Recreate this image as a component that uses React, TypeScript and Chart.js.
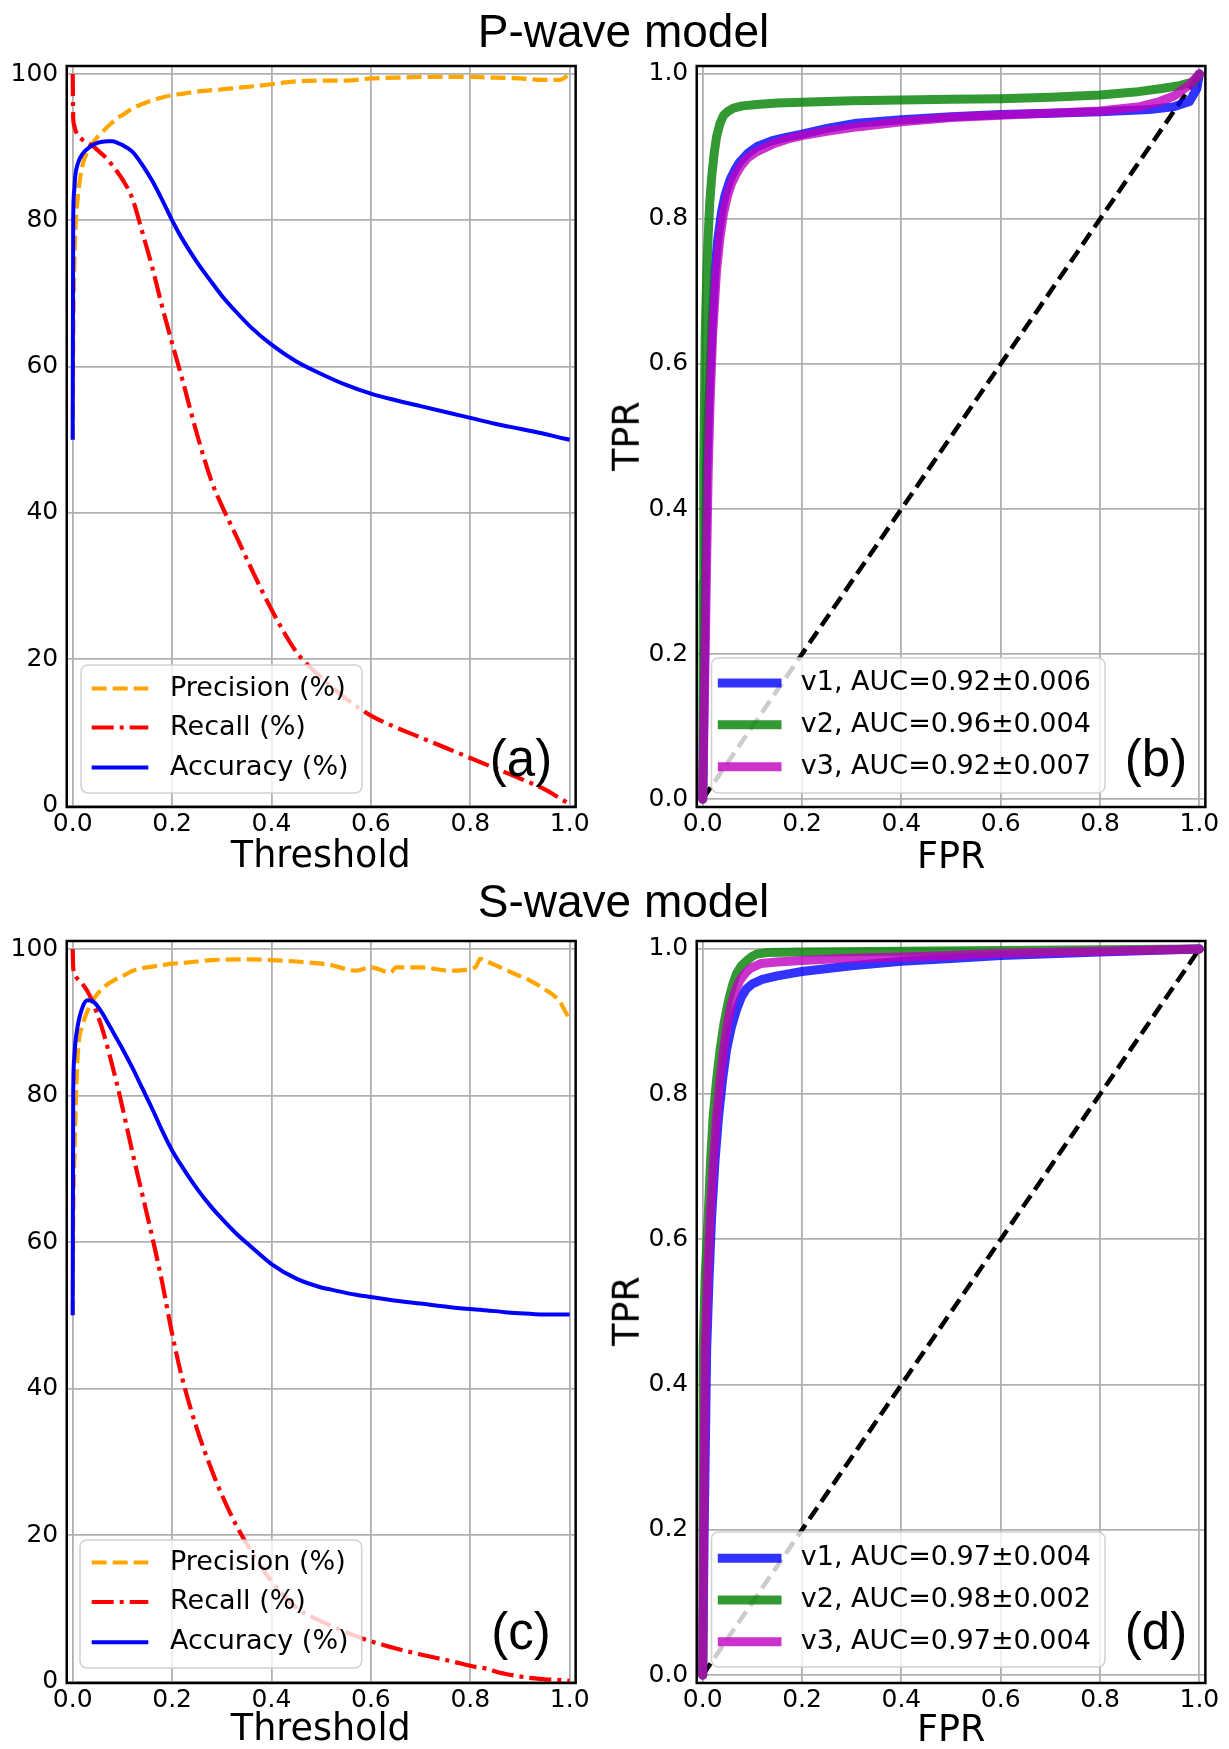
import React, { useEffect, useRef } from "react";
import { Chart, registerables } from "chart.js";

Chart.register(...registerables);

// ---------------- tick values ----------------
const thresholdTicks = [0, 0.2, 0.4, 0.6, 0.8, 1.0];
const percentTicks = [0, 20, 40, 60, 80, 100];
const rateTicks = [0, 0.2, 0.4, 0.6, 0.8, 1.0];

// ---------------- labels ----------------
const metricLabels = ["Precision (%)", "Recall (%)", "Accuracy (%)"];
const pRocLabels = ["v1, AUC=0.92±0.006", "v2, AUC=0.96±0.004", "v3, AUC=0.92±0.007"];
const sRocLabels = ["v1, AUC=0.97±0.004", "v2, AUC=0.98±0.002", "v3, AUC=0.97±0.004"];

// ---------------- (a) P-wave threshold curves ----------------
const pThreshold = [0, 0.001, 0.003, 0.005, 0.01, 0.02, 0.03, 0.04, 0.05, 0.06, 0.07, 0.08, 0.09, 0.1, 0.12, 0.14, 0.16, 0.18, 0.2, 0.22, 0.25, 0.28, 0.3, 0.33, 0.36, 0.4, 0.45, 0.5, 0.55, 0.6, 0.65, 0.7, 0.75, 0.8, 0.85, 0.9, 0.95, 0.98, 1.0];
const pPrecision = [50, 62, 73, 78, 83, 87.6, 89.4, 90.5, 91.4, 92.1, 92.8, 93.4, 94.0, 94.4, 95.3, 95.9, 96.4, 96.8, 97.1, 97.3, 97.6, 97.8, 97.9, 98.1, 98.3, 98.6, 99.0, 99.1, 99.1, 99.4, 99.5, 99.6, 99.6, 99.6, 99.5, 99.4, 99.2, 99.2, 100];
const pRecall = [100, 94, 93, 92.4, 91.7, 91.0, 90.6, 90.2, 89.6, 89.0, 88.3, 87.5, 86.6, 85.6, 83.0, 78.4, 73.6, 68.2, 63.2, 58.4, 50.8, 44.2, 41.0, 36.7, 32.3, 26.8, 21.0, 17.5, 14.6, 12.3, 10.7, 9.3, 7.9, 6.5, 5.1, 3.7, 2.2, 1.0, 0.2];
const pAccuracy = [50, 80, 84, 86, 87.7, 89.1, 89.8, 90.3, 90.6, 90.75, 90.8, 90.8, 90.6, 90.3, 89.4, 87.6, 85.4, 82.8, 80.0, 77.5, 74.3, 71.5, 69.7, 67.4, 65.3, 63.0, 60.7, 59.0, 57.5, 56.3, 55.4, 54.6, 53.8, 53.0, 52.2, 51.5, 50.8, 50.3, 50.0];

// ---------------- (c) S-wave threshold curves ----------------
const sThreshold = [0, 0.001, 0.003, 0.005, 0.01, 0.02, 0.03, 0.04, 0.05, 0.06, 0.07, 0.08, 0.09, 0.1, 0.12, 0.14, 0.16, 0.18, 0.2, 0.22, 0.25, 0.28, 0.3, 0.33, 0.36, 0.4, 0.45, 0.5, 0.52, 0.57, 0.6, 0.64, 0.65, 0.7, 0.76, 0.81, 0.82, 0.83, 0.86, 0.89, 0.92, 0.95, 0.98, 1.0];
const sPrecision = [50, 62, 70, 76, 85.5, 89.6, 91.6, 92.9, 93.9, 94.6, 95.2, 95.6, 96.0, 96.3, 97.0, 97.4, 97.6, 97.8, 98.0, 98.1, 98.3, 98.5, 98.55, 98.6, 98.6, 98.5, 98.3, 98.0, 97.8, 97.05, 97.5, 96.8, 97.5, 97.5, 97.05, 97.5, 98.65, 98.4, 97.5, 96.6, 95.7, 94.5, 92.8, 90.3];
const sRecall = [100, 97.5, 96.8, 96.4, 95.9, 95.2, 94.2, 92.8, 91.0, 89.0, 86.6, 84.0, 81.3, 78.4, 72.3, 66.5, 60.7, 54.5, 47.5, 41.5, 34.5, 28.8, 25.5, 21.2, 17.7, 13.7, 10.1, 8.2, 7.6, 6.2, 5.5, 4.7, 4.5, 3.7, 2.8, 2.0, 1.9, 1.8, 1.2, 0.8, 0.5, 0.3, 0.2, 0.1];
const sAccuracy = [50, 80, 85, 87, 89.5, 92.1, 93.0, 92.9, 92.2, 91.2, 90.0, 88.8, 87.6, 86.4, 83.8, 81.0, 78.2, 75.2, 72.5, 70.3, 67.3, 64.7, 63.2, 61.1, 59.3, 57.0, 55.0, 53.8, 53.5, 52.8, 52.5, 52.1, 52.0, 51.6, 51.1, 50.8, 50.75, 50.7, 50.5, 50.3, 50.2, 50.1, 50.1, 50.1];

// ---------------- (b) P-wave ROC ----------------
const pV1Fpr = [0, 0.002, 0.004, 0.006, 0.008, 0.012, 0.015, 0.02, 0.025, 0.03, 0.038, 0.045, 0.055, 0.065, 0.075, 0.09, 0.11, 0.14, 0.17, 0.2, 0.25, 0.31, 0.4, 0.5, 0.6, 0.7, 0.8, 0.9, 0.95, 0.98, 0.995, 1.0];
const pV1Tpr = [0, 0.1, 0.22, 0.34, 0.45, 0.54, 0.59, 0.67, 0.73, 0.77, 0.81, 0.833, 0.854, 0.868, 0.879, 0.89, 0.9, 0.908, 0.913, 0.917, 0.925, 0.932, 0.937, 0.941, 0.944, 0.946, 0.948, 0.951, 0.955, 0.962, 0.98, 1.0];
const pV2Fpr = [0, 0.001, 0.002, 0.005, 0.008, 0.011, 0.014, 0.018, 0.023, 0.028, 0.035, 0.042, 0.05, 0.062, 0.08, 0.109, 0.15, 0.2, 0.3, 0.4, 0.5, 0.6, 0.7, 0.8, 0.87, 0.924, 0.96, 0.988, 1.0];
const pV2Tpr = [0, 0.3, 0.45, 0.638, 0.72, 0.776, 0.82, 0.858, 0.89, 0.914, 0.932, 0.943, 0.948, 0.953, 0.956, 0.958, 0.96, 0.961, 0.963, 0.964, 0.965, 0.966, 0.968, 0.971, 0.975, 0.98, 0.984, 0.989, 1.0];
const pV3Fpr = [0, 0.002, 0.005, 0.008, 0.011, 0.015, 0.02, 0.028, 0.035, 0.042, 0.05, 0.058, 0.068, 0.078, 0.09, 0.109, 0.14, 0.17, 0.2, 0.25, 0.31, 0.4, 0.5, 0.6, 0.7, 0.8, 0.88, 0.92, 0.95, 0.98, 1.0];
const pV3Tpr = [0, 0.08, 0.2, 0.33, 0.45, 0.55, 0.64, 0.73, 0.775, 0.808, 0.832, 0.849, 0.863, 0.874, 0.884, 0.893, 0.903, 0.91, 0.915, 0.921, 0.927, 0.934, 0.94, 0.943, 0.946, 0.949, 0.955, 0.962, 0.97, 0.985, 1.0];

// ---------------- (d) S-wave ROC ----------------
const sV1Fpr = [0, 0.003, 0.008, 0.013, 0.018, 0.025, 0.032, 0.04, 0.048, 0.058, 0.068, 0.078, 0.088, 0.1, 0.12, 0.15, 0.2, 0.3, 0.4, 0.5, 0.6, 0.8, 1.0];
const sV1Tpr = [0, 0.2, 0.448, 0.55, 0.631, 0.71, 0.769, 0.82, 0.861, 0.893, 0.916, 0.934, 0.945, 0.952, 0.958, 0.963, 0.969, 0.977, 0.983, 0.987, 0.991, 0.996, 1.0];
const sV2Fpr = [0, 0.001, 0.005, 0.011, 0.016, 0.021, 0.028, 0.035, 0.043, 0.052, 0.06, 0.068, 0.078, 0.089, 0.1, 0.109, 0.13, 0.2, 0.4, 0.6, 0.8, 1.0];
const sV2Tpr = [0, 0.448, 0.55, 0.631, 0.71, 0.769, 0.82, 0.861, 0.898, 0.929, 0.95, 0.966, 0.977, 0.984, 0.99, 0.993, 0.995, 0.996, 0.997, 0.998, 0.999, 1.0];
const sV3Fpr = [0, 0.002, 0.005, 0.01, 0.015, 0.021, 0.028, 0.035, 0.042, 0.05, 0.058, 0.066, 0.075, 0.085, 0.095, 0.117, 0.15, 0.2, 0.28, 0.4, 0.5, 0.6, 0.8, 1.0];
const sV3Tpr = [0, 0.2, 0.448, 0.55, 0.631, 0.7, 0.769, 0.82, 0.861, 0.898, 0.925, 0.943, 0.957, 0.966, 0.973, 0.98, 0.982, 0.984, 0.987, 0.989, 0.991, 0.994, 0.997, 1.0];

// chance diagonal
const diagFpr = [0, 1];
const diagTpr = [0, 1];

// ---------------- layout ----------------
type Frame = { cx: number; cy: number; cw: number; ch: number; L: number; T: number; R: number; B: number };
type LegendSpec = { box: number[]; rows: number[]; handle: number[]; textX: number; fontSize: number };

const frameA: Frame = { cx: 0, cy: 36, cw: 610, ch: 814, L: 66.74, T: 66, R: 575.66, B: 807 };
const frameB: Frame = { cx: 620, cy: 36, cw: 609, ch: 814, L: 696.74, T: 66, R: 1205.36, B: 807 };
const frameC: Frame = { cx: 0, cy: 911, cw: 610, ch: 814, L: 66.74, T: 941, R: 575.66, B: 1683 };
const frameD: Frame = { cx: 620, cy: 911, cw: 609, ch: 814, L: 696.74, T: 941, R: 1205.36, B: 1683 };

const legendA: LegendSpec = { box: [81, 665, 362, 793], rows: [688.5, 727.5, 767.5], handle: [91.7, 148.3], textX: 170, fontSize: 27 };
const legendC: LegendSpec = { box: [80, 1540, 361.7, 1668], rows: [1562.5, 1602, 1642.3], handle: [91.7, 148.3], textX: 170, fontSize: 27 };
const legendB: LegendSpec = { box: [711.5, 658, 1105, 793], rows: [683, 724.7, 766.7], handle: [717.8, 781.5], textX: 800.8, fontSize: 27 };
const legendD: LegendSpec = { box: [711.5, 1532, 1105, 1667], rows: [1558.3, 1600, 1641.7], handle: [717.8, 781.5], textX: 800.8, fontSize: 27 };

const TICK_FAMILY = '"DejaVu Sans", sans-serif';
const TITLE_FAMILY = '"Liberation Sans", Arial, sans-serif';

const zip = (xs: number[], ys: number[]) => xs.map((x, i) => ({ x, y: ys[i] }));

function decorPlugin(frame: Frame, legend: LegendSpec) {
  return {
    id: "decor",
    afterDatasetsDraw(chart: any) {
      const { ctx, chartArea: a } = chart;
      ctx.save();
      ctx.strokeStyle = "#000";
      ctx.lineWidth = 2.5;
      ctx.setLineDash([]);
      ctx.strokeRect(a.left, a.top, a.right - a.left, a.bottom - a.top);
      ctx.restore();
    },
    afterDraw(chart: any) {
      const ctx = chart.ctx;
      const ox = frame.cx;
      const oy = frame.cy;
      const [x0, y0, x1, y1] = legend.box;
      ctx.save();
      ctx.beginPath();
      ctx.roundRect(x0 - ox, y0 - oy, x1 - x0, y1 - y0, 7);
      ctx.fillStyle = "rgba(255,255,255,0.8)";
      ctx.fill();
      ctx.lineWidth = 1.5;
      ctx.strokeStyle = "rgba(204,204,204,0.9)";
      ctx.stroke();
      chart.data.datasets.slice(0, legend.rows.length).forEach((ds: any, i: number) => {
        const y = legend.rows[i] - oy;
        ctx.beginPath();
        ctx.setLineDash(ds.borderDash || []);
        ctx.lineCap = "butt";
        ctx.strokeStyle = ds.borderColor;
        ctx.lineWidth = ds.borderWidth;
        ctx.moveTo(legend.handle[0] - ox, y);
        ctx.lineTo(legend.handle[1] - ox, y);
        ctx.stroke();
        ctx.setLineDash([]);
        ctx.fillStyle = "#000";
        ctx.font = `${legend.fontSize}px ${TICK_FAMILY}`;
        ctx.textAlign = "left";
        ctx.textBaseline = "middle";
        ctx.fillText(ds.label, legend.textX - ox, y);
      });
      ctx.restore();
    },
  };
}

function makeScales(frame: Frame, xTicks: number[], yTicks: number[], yMin: number, yMax: number, yFmt: (v: number) => string) {
  const font = { family: TICK_FAMILY, size: 25 };
  const grid = { color: "#b0b0b0", lineWidth: 1.8, drawTicks: false };
  return {
    x: {
      type: "linear",
      min: -0.012,
      max: 1.012,
      afterBuildTicks: (s: any) => {
        s.ticks = xTicks.map((v) => ({ value: v }));
      },
      afterFit: (s: any) => {
        s.height = frame.cy + frame.ch - frame.B;
      },
      ticks: { font, color: "#000", padding: 2.5, autoSkip: false, maxRotation: 0, minRotation: 0, callback: (v: any) => Number(v).toFixed(1) },
      grid,
      border: { display: false },
    },
    y: {
      type: "linear",
      min: yMin,
      max: yMax,
      afterBuildTicks: (s: any) => {
        s.ticks = yTicks.map((v) => ({ value: v }));
      },
      afterFit: (s: any) => {
        s.width = frame.L - frame.cx;
      },
      ticks: { font, color: "#000", padding: 8.5, autoSkip: false, callback: (v: any) => yFmt(Number(v)) },
      grid,
      border: { display: false },
    },
  };
}

function baseOptions(frame: Frame, scales: any) {
  return {
    responsive: false,
    maintainAspectRatio: false,
    animation: false,
    devicePixelRatio: 1,
    events: [],
    layout: { padding: { left: 0, top: frame.T - frame.cy, right: frame.cx + frame.cw - frame.R, bottom: 0 } },
    plugins: { legend: { display: false }, tooltip: { enabled: false }, title: { display: false } },
    elements: { point: { radius: 0, hoverRadius: 0 } },
    scales,
  };
}

function thresholdConfig(frame: Frame, legend: LegendSpec, thr: number[], prec: number[], rec: number[], acc: number[]) {
  return () => ({
    type: "line",
    data: {
      datasets: [
        { label: metricLabels[0], data: zip(thr, prec), borderColor: "#ffa500", borderWidth: 4.2, borderDash: [15, 6], cubicInterpolationMode: "monotone", fill: false, order: 2 },
        { label: metricLabels[1], data: zip(thr, rec), borderColor: "#ff0000", borderWidth: 4.2, borderDash: [22, 6, 4, 6], cubicInterpolationMode: "monotone", fill: false, order: 1 },
        { label: metricLabels[2], data: zip(thr, acc), borderColor: "#0000ff", borderWidth: 4, cubicInterpolationMode: "monotone", fill: false, order: 0 },
      ],
    },
    options: baseOptions(frame, makeScales(frame, thresholdTicks, percentTicks, -0.2, 101.1, (v) => String(Math.round(v)))),
    plugins: [decorPlugin(frame, legend)],
  });
}

function rocConfig(frame: Frame, legend: LegendSpec, labels: string[], v1: number[][], v2: number[][], v3: number[][]) {
  const common = { borderWidth: 9, borderJoinStyle: "round", borderCapStyle: "round", tension: 0, fill: false };
  return () => ({
    type: "line",
    data: {
      datasets: [
        { ...common, label: labels[0], data: zip(v1[0], v1[1]), borderColor: "rgba(0,0,255,0.8)", order: 2 },
        { ...common, label: labels[1], data: zip(v2[0], v2[1]), borderColor: "rgba(0,128,0,0.8)", order: 1 },
        { ...common, label: labels[2], data: zip(v3[0], v3[1]), borderColor: "rgba(191,0,191,0.8)", order: 0 },
        { label: "chance", data: zip(diagFpr, diagTpr), borderColor: "#000", borderWidth: 4.5, borderDash: [14, 7], tension: 0, fill: false, order: 3 },
      ],
    },
    options: baseOptions(frame, makeScales(frame, rateTicks, rateTicks, -0.011, 1.011, (v) => v.toFixed(1))),
    plugins: [decorPlugin(frame, legend)],
  });
}

const buildA = thresholdConfig(frameA, legendA, pThreshold, pPrecision, pRecall, pAccuracy);
const buildC = thresholdConfig(frameC, legendC, sThreshold, sPrecision, sRecall, sAccuracy);
const buildB = rocConfig(frameB, legendB, pRocLabels, [pV1Fpr, pV1Tpr], [pV2Fpr, pV2Tpr], [pV3Fpr, pV3Tpr]);
const buildD = rocConfig(frameD, legendD, sRocLabels, [sV1Fpr, sV1Tpr], [sV2Fpr, sV2Tpr], [sV3Fpr, sV3Tpr]);

function ChartCanvas({ frame, build }: { frame: Frame; build: () => any }) {
  const ref = useRef<HTMLCanvasElement | null>(null);
  useEffect(() => {
    if (!ref.current) return;
    const chart = new Chart(ref.current, build() as any);
    return () => chart.destroy();
  }, [build]);
  return (
    <canvas
      ref={ref}
      width={frame.cw}
      height={frame.ch}
      style={{ position: "absolute", left: frame.cx, top: frame.cy, width: frame.cw, height: frame.ch }}
    />
  );
}

function Text({ x, y, size, family, rotate, children }: { x: number; y: number; size: number; family: string; rotate?: number; children: any }) {
  return (
    <div
      style={{
        position: "absolute",
        left: x,
        top: y,
        transform: `translate(-50%, -50%)${rotate ? ` rotate(${rotate}deg)` : ""}`,
        fontSize: size,
        fontFamily: family,
        lineHeight: 1,
        whiteSpace: "nowrap",
        color: "#000",
      }}
    >
      {children}
    </div>
  );
}

export default function App() {
  return (
    <div style={{ position: "absolute", left: 0, top: 0, width: 1229, height: 1749, background: "#fff", overflow: "hidden" }}>
      <ChartCanvas frame={frameA} build={buildA} />
      <ChartCanvas frame={frameB} build={buildB} />
      <ChartCanvas frame={frameC} build={buildC} />
      <ChartCanvas frame={frameD} build={buildD} />

      <Text x={623.5} y={31.3} size={46} family={TITLE_FAMILY}>P-wave model</Text>
      <Text x={623.5} y={901.3} size={46} family={TITLE_FAMILY}>S-wave model</Text>

      <Text x={320.8} y={855.4} size={36.5} family={TICK_FAMILY}>Threshold</Text>
      <Text x={320.8} y={1728.4} size={36.5} family={TICK_FAMILY}>Threshold</Text>
      <Text x={951.3} y={855.7} size={36.5} family={TICK_FAMILY}>FPR</Text>
      <Text x={951.3} y={1729} size={36.5} family={TICK_FAMILY}>FPR</Text>
      <Text x={627} y={436} size={36.5} family={TICK_FAMILY} rotate={-90}>TPR</Text>
      <Text x={627} y={1311} size={36.5} family={TICK_FAMILY} rotate={-90}>TPR</Text>

      <Text x={521} y={758} size={51} family={TITLE_FAMILY}>(a)</Text>
      <Text x={1156} y={758} size={51} family={TITLE_FAMILY}>(b)</Text>
      <Text x={521} y={1631} size={51} family={TITLE_FAMILY}>(c)</Text>
      <Text x={1156} y={1631} size={51} family={TITLE_FAMILY}>(d)</Text>
    </div>
  );
}
